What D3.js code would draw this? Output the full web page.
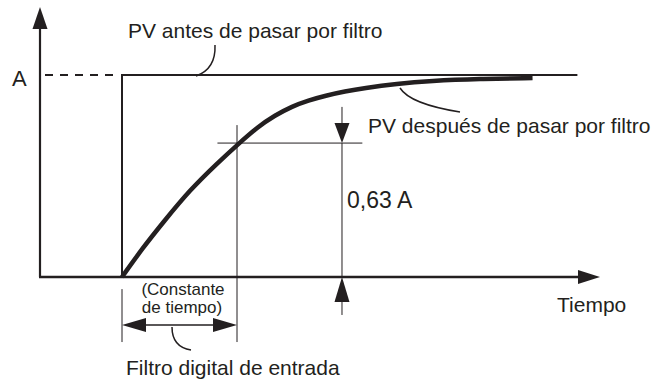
<!DOCTYPE html>
<html>
<head>
<meta charset="utf-8">
<script src="https://cdn.jsdelivr.net/npm/d3@7"></script>
<style>
  body { margin: 0; background: #fff; }
  svg { display: block; font-family: "Liberation Sans", Arial, sans-serif; }
</style>
</head>
<body>
<svg id="chart"></svg>
<script>
// time in units of the time constant (tau = 1), value as a fraction of A
const filteredT = [0, 0.18, 0.36, 0.59, 0.83, 1.0, 1.18, 1.33, 1.48, 1.62, 1.77, 1.94, 2.10, 2.39, 2.68, 3.11, 3.57];
const filteredV = [0, 0.144, 0.272, 0.431, 0.564, 0.653, 0.743, 0.800, 0.845, 0.874, 0.898, 0.919, 0.935, 0.957, 0.971, 0.981, 0.985];
const stepT = [0, 0, 3.96];
const stepV = [0, 1, 1];
const tau = 1;
const levelV = 0.663;      // where the 0,63 A line is drawn
const dimT = 1.913;        // position of the 0,63 A dimension
const labels = {
  a: "A",
  before: "PV antes de pasar por filtro",
  after: "PV después de pasar por filtro",
  level: "0,63 A",
  time: "Tiempo",
  tc1: "(Constante",
  tc2: "de tiempo)",
  filter: "Filtro digital de entrada"
};

const width = 657, height = 382;
const ink = "#231f20";
const frame = { left: 40, bottom: 277, right: 600, top: 7 };

const svg = d3.select("#chart").attr("width", width).attr("height", height);

const x = d3.scaleLinear().domain([0, 1]).range([122, 237]);
const y = d3.scaleLinear().domain([0, 1]).range([277, 75]);

function seg(x1, y1, x2, y2, w, dash) {
  const l = svg.append("line")
    .attr("x1", x1).attr("y1", y1).attr("x2", x2).attr("y2", y2)
    .attr("stroke", ink).attr("stroke-width", w);
  if (dash) l.attr("stroke-dasharray", dash);
  return l;
}

// arrow head: tip at (tx,ty), pointing in direction dir (radians), length len, half width hw
function head(tx, ty, dir, len, hw) {
  const bx = tx - Math.cos(dir) * len, by = ty - Math.sin(dir) * len;
  const nx = -Math.sin(dir) * hw, ny = Math.cos(dir) * hw;
  svg.append("path")
    .attr("d", `M${tx},${ty}L${bx + nx},${by + ny}L${bx - nx},${by - ny}Z`)
    .attr("fill", ink);
}

// axes
seg(frame.left, frame.bottom, frame.left, frame.top + 15, 2.2);
head(frame.left, frame.top, -Math.PI / 2, 22, 7.5);
seg(frame.left - 1, frame.bottom, frame.right - 15, frame.bottom, 2.5);
head(frame.right, frame.bottom, 0, 22, 7);

// dashed A level
seg(frame.left + 5, y(1), x(0) - 9, y(1), 2, "8,7");

// unfiltered step
const line = d3.line().x(d => x(d[0])).y(d => y(d[1]));
svg.append("path")
  .datum(stepT.map((t, i) => [t, stepV[i]]))
  .attr("d", line)
  .attr("fill", "none").attr("stroke", ink).attr("stroke-width", 2);

// filtered response
svg.append("path")
  .datum(filteredT.map((t, i) => [t, filteredV[i]]))
  .attr("d", line.curve(d3.curveBasis))
  .attr("fill", "none").attr("stroke", ink).attr("stroke-width", 4.5);

// time constant guides
seg(x(tau), y(0.752), x(tau), y(-0.322), 1);
seg(x(0), y(-0.06), x(0), y(-0.322), 1);
seg(x(0.83), y(levelV), x(2.09), y(levelV), 1);
seg(x(0) + 20, 325, x(tau) - 20, 325, 1.3);
head(x(0), 325, Math.PI, 24, 7);
head(x(tau), 325, 0, 24, 7);

// 0,63 A dimension
seg(x(dimT), y(0.842), x(dimT), y(levelV) - 18, 1);
head(x(dimT), y(levelV), Math.PI / 2, 20, 7.5);
seg(x(dimT), y(levelV), x(dimT), y(0), 1);
seg(x(dimT), y(0) + 22, x(dimT), y(-0.188), 1);
head(x(dimT), y(0), -Math.PI / 2, 25, 7.5);

// leader lines
const leader = d => svg.append("path").attr("d", d)
  .attr("fill", "none").attr("stroke", ink).attr("stroke-width", 1.5);
leader("M215,45 Q216,69 196,76");
leader("M400,88 Q410,104 460,112");
leader("M172,327 Q172,347 191,350");

// text
function txt(s, tx, ty, size, anchor) {
  svg.append("text").attr("x", tx).attr("y", ty)
    .attr("font-size", size).attr("fill", ink)
    .attr("text-anchor", anchor || "start").text(s);
}
txt(labels.a, 12, 86, 22);
txt(labels.before, 128, 38, 21);
txt(labels.after, 368, 133, 21);
txt(labels.level, 347, 208, 23);
txt(labels.time, 557, 312, 21);
txt(labels.tc1, 183, 295, 17, "middle");
txt(labels.tc2, 182, 313, 17, "middle");
txt(labels.filter, 126, 375, 21);
</script>
</body>
</html>
